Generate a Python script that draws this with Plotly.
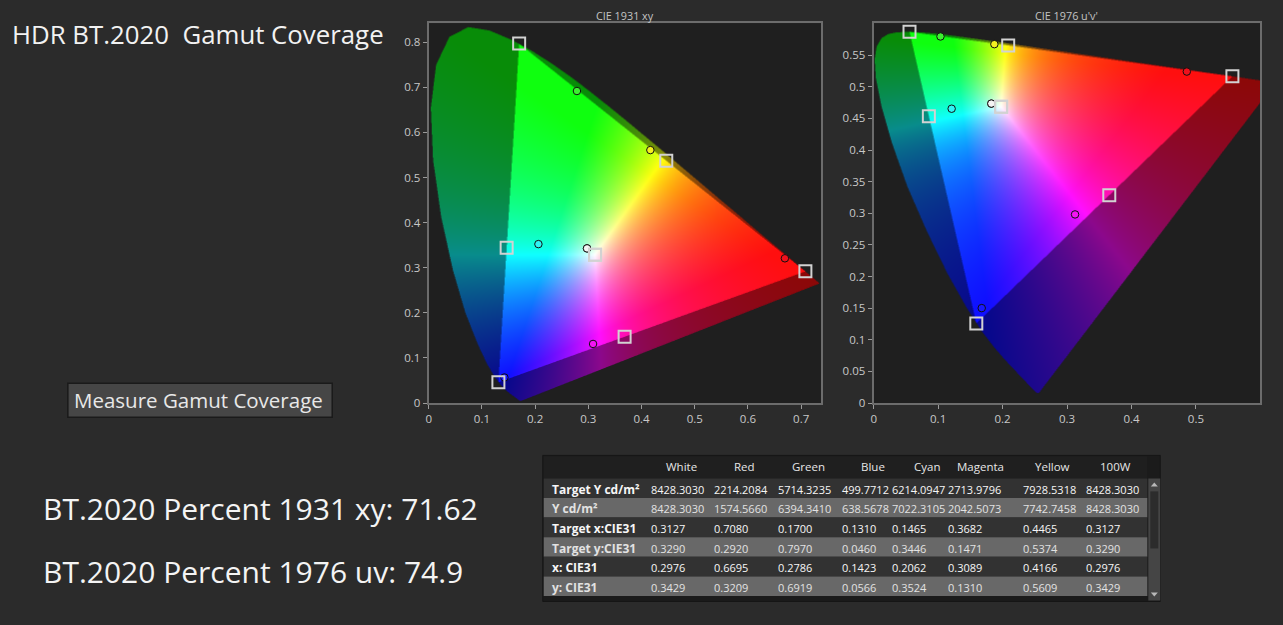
import base64
import struct
import zlib

import numpy as np
import plotly.graph_objects as go

W, H = 1283, 625
SY = 0.988  # the captured page comes out slightly squeezed vertically
FONT = "Open Sans"

# CIE 1931 2-degree spectral locus (chromaticity of monochromatic light)
WAVELENGTH_NM = [380, 385, 390, 395, 400, 405, 410, 415, 420, 425, 430, 435, 440, 445,
                 450, 455, 460, 465, 470, 475, 480, 485, 490, 495, 500, 505, 510, 515,
                 520, 525, 530, 535, 540, 545, 550, 555, 560, 565, 570, 575, 580, 585,
                 590, 595, 600, 605, 610, 615, 620, 625, 630, 635, 640, 645, 650, 655,
                 660, 665, 670, 680, 690, 700]
LOCUS_X = [0.1741, 0.1740, 0.1738, 0.1736, 0.1733, 0.1730, 0.1726, 0.1721, 0.1714, 0.1703,
           0.1689, 0.1669, 0.1644, 0.1611, 0.1566, 0.1510, 0.1440, 0.1355, 0.1241, 0.1096,
           0.0913, 0.0687, 0.0454, 0.0235, 0.0082, 0.0039, 0.0139, 0.0389, 0.0743, 0.1142,
           0.1547, 0.1929, 0.2296, 0.2658, 0.3016, 0.3373, 0.3731, 0.4087, 0.4441, 0.4788,
           0.5125, 0.5448, 0.5752, 0.6029, 0.6270, 0.6482, 0.6658, 0.6801, 0.6915, 0.7006,
           0.7079, 0.7140, 0.7190, 0.7230, 0.7260, 0.7283, 0.7300, 0.7311, 0.7320, 0.7334,
           0.7344, 0.7347]
LOCUS_Y = [0.0050, 0.0050, 0.0049, 0.0049, 0.0048, 0.0048, 0.0048, 0.0048, 0.0051, 0.0058,
           0.0069, 0.0086, 0.0109, 0.0138, 0.0177, 0.0227, 0.0297, 0.0399, 0.0578, 0.0868,
           0.1327, 0.2007, 0.2950, 0.4127, 0.5384, 0.6548, 0.7502, 0.8120, 0.8338, 0.8262,
           0.8059, 0.7816, 0.7543, 0.7243, 0.6923, 0.6589, 0.6245, 0.5896, 0.5547, 0.5202,
           0.4866, 0.4544, 0.4242, 0.3965, 0.3725, 0.3514, 0.3340, 0.3197, 0.3083, 0.2993,
           0.2920, 0.2859, 0.2809, 0.2770, 0.2740, 0.2717, 0.2700, 0.2689, 0.2680, 0.2666,
           0.2656, 0.2653]

# BT.2020 primaries (R, G, B)
BT2020_X = [0.708, 0.170, 0.131]
BT2020_Y = [0.292, 0.797, 0.046]

PATCHES = ["White", "Red", "Green", "Blue", "Cyan", "Magenta", "Yellow", "100W"]
TARGET_LUM = [8428.3030, 2214.2084, 5714.3235, 499.7712, 6214.0947, 2713.9796, 7928.5318, 8428.3030]
MEAS_LUM = [8428.3030, 1574.5660, 6394.3410, 638.5678, 7022.3105, 2042.5073, 7742.7458, 8428.3030]
TARGET_X = [0.3127, 0.7080, 0.1700, 0.1310, 0.1465, 0.3682, 0.4465, 0.3127]
TARGET_Y = [0.3290, 0.2920, 0.7970, 0.0460, 0.3446, 0.1471, 0.5374, 0.3290]
MEAS_X = [0.2976, 0.6695, 0.2786, 0.1423, 0.2062, 0.3089, 0.4166, 0.2976]
MEAS_Y = [0.3429, 0.3209, 0.6919, 0.0566, 0.3524, 0.1310, 0.5609, 0.3429]
PATCH_COLORS = ["#f4f4f4", "#f0101c", "#3cf030", "#1818ff", "#30f4f4", "#f414f4", "#f4f020", "#f4f4f4"]

ROW_LABELS = ["Target Y cd/m²", "Y cd/m²", "Target x:CIE31", "Target y:CIE31", "x: CIE31", "y: CIE31"]

PERCENT_XY = 71.62
PERCENT_UV = 74.9

XY_RANGE_X = [0, 0.7375]
XY_RANGE_Y = [0, 0.842]
UV_RANGE_X = [0, 0.5995]
UV_RANGE_Y = [0, 0.6003]
XY_TICKS_X = [0, 0.1, 0.2, 0.3, 0.4, 0.5, 0.6, 0.7]
XY_TICKS_Y = [0, 0.1, 0.2, 0.3, 0.4, 0.5, 0.6, 0.7, 0.8]
UV_TICKS_X = [0, 0.1, 0.2, 0.3, 0.4, 0.5]
UV_TICKS_Y = [0, 0.05, 0.1, 0.15, 0.2, 0.25, 0.3, 0.35, 0.4, 0.45, 0.5, 0.55]


def px(v):
    return v / W


def py(v):
    return 1 - v / SY / H


def xy_to_uv(x, y):
    x = np.asarray(x, float)
    y = np.asarray(y, float)
    d = -2 * x + 12 * y + 3
    return 4 * x / d, 9 * y / d


def inside(qx, qy, vx, vy):
    res = np.zeros(qx.shape, bool)
    n = len(vx)
    j = n - 1
    for i in range(n):
        yi, yj, xi, xj = vy[i], vy[j], vx[i], vx[j]
        cross = (yi > qy) != (yj > qy)
        xint = (xj - xi) * (qy - yi) / ((yj - yi) or 1e-12) + xi
        res ^= cross & (qx < xint)
        j = i
    return res


M_SRGB = np.array([[3.2406, -1.5372, -0.4986],
                   [-0.9689, 1.8758, 0.0415],
                   [0.0557, -0.2040, 1.0570]])


def chroma_rgba(x, y):
    # max-normalised, clipped linear RGB; dimmed outside the BT.2020 triangle
    yy = np.maximum(y, 1e-6)
    xyz = np.stack([x / yy, np.ones_like(x), (1 - x - y) / yy])
    rgb = np.clip(np.tensordot(M_SRGB, xyz, axes=1), 0, None)
    rgb /= np.maximum(rgb.max(axis=0), 1e-9)
    rgb = 0.06 + 0.94 * rgb
    in_locus = inside(x, y, LOCUS_X, LOCUS_Y)
    in_gamut = inside(x, y, BT2020_X, BT2020_Y)
    rgb = rgb * np.where(in_gamut, 1.0, 0.55)
    return rgb, in_locus.astype(float)


def gamut_image(xr, yr, nx, ny, uv=False, ss=2):
    gx = xr[0] + (np.arange(nx * ss) + 0.5) * (xr[1] - xr[0]) / (nx * ss)
    gy = yr[1] - (np.arange(ny * ss) + 0.5) * (yr[1] - yr[0]) / (ny * ss)
    a, b = np.meshgrid(gx, gy)
    if uv:
        d = 6 * a - 16 * b + 12
        a, b = 9 * a / d, 4 * b / d
    rgb, alpha = chroma_rgba(a, b)
    pre = (rgb * alpha).reshape(3, ny, ss, nx, ss).mean(axis=(2, 4))
    al = alpha.reshape(ny, ss, nx, ss).mean(axis=(1, 3))
    col = pre / np.maximum(al, 1e-9)
    img = np.concatenate([col, al[None]], axis=0).transpose(1, 2, 0)
    return np.clip(np.round(img * 255), 0, 255).astype(np.uint8)


def png_uri(rgba):
    h, w, _ = rgba.shape
    raw = b"".join(b"\x00" + rgba[r].tobytes() for r in range(h))

    def chunk(tag, data):
        return (struct.pack(">I", len(data)) + tag + data
                + struct.pack(">I", zlib.crc32(tag + data) & 0xFFFFFFFF))

    png = (b"\x89PNG\r\n\x1a\n"
           + chunk(b"IHDR", struct.pack(">IIBBBBB", w, h, 8, 6, 0, 0, 0))
           + chunk(b"IDAT", zlib.compress(raw, 9))
           + chunk(b"IEND", b""))
    return "data:image/png;base64," + base64.b64encode(png).decode()


# plot areas in pixels (left, right, top, bottom)
P1 = (426.7, 820.0, 23.3, 402.7)
P2 = (872.7, 1260.0, 23.3, 402.7)

img_xy = gamut_image(XY_RANGE_X, XY_RANGE_Y, int(P1[1] - P1[0]), int(P1[3] - P1[2]))
img_uv = gamut_image(UV_RANGE_X, UV_RANGE_Y, int(P2[1] - P2[0]), int(P2[3] - P2[2]), uv=True)

tu, tv = xy_to_uv(TARGET_X, TARGET_Y)
mu, mv = xy_to_uv(MEAS_X, MEAS_Y)

fig = go.Figure()
for xs, ys, xa, ya in [(MEAS_X, MEAS_Y, "x", "y"), (mu, mv, "x2", "y2")]:
    fig.add_trace(go.Scatter(
        x=xs, y=ys, xaxis=xa, yaxis=ya, mode="markers", hoverinfo="skip",
        marker=dict(symbol="circle", size=7.5, color=PATCH_COLORS,
                    line=dict(color="#101010", width=1)),
    ))
for xs, ys, xa, ya in [(TARGET_X, TARGET_Y, "x", "y"), (tu, tv, "x2", "y2")]:
    fig.add_trace(go.Scatter(
        x=xs, y=ys, xaxis=xa, yaxis=ya, mode="markers", hoverinfo="skip",
        marker=dict(symbol="square-open", size=12, color="#d2d2d2",
                    line=dict(width=2)),
    ))

axis = dict(showgrid=False, zeroline=False, showline=True, linecolor="#6c6c6c",
            linewidth=2, mirror=True, ticks="outside", ticklen=4, tickcolor="#9a9a9a",
            tickfont=dict(family=FONT, size=11.5, color="#c8c8c8"), fixedrange=True)

fig.update_layout(
    width=W, height=H, margin=dict(l=0, r=0, t=0, b=0), autosize=False,
    paper_bgcolor="#2b2b2b", plot_bgcolor="#1f1f1f", showlegend=False,
    xaxis=dict(axis, domain=[px(P1[0]), px(P1[1])], range=XY_RANGE_X, anchor="y",
               tickvals=XY_TICKS_X, ticktext=[f"{v:g}" for v in XY_TICKS_X]),
    yaxis=dict(axis, domain=[py(P1[3]), py(P1[2])], range=XY_RANGE_Y, anchor="x",
               tickvals=XY_TICKS_Y, ticktext=[f"{v:g}" for v in XY_TICKS_Y]),
    xaxis2=dict(axis, domain=[px(P2[0]), px(P2[1])], range=UV_RANGE_X, anchor="y2",
                tickvals=UV_TICKS_X, ticktext=[f"{v:g}" for v in UV_TICKS_X]),
    yaxis2=dict(axis, domain=[py(P2[3]), py(P2[2])], range=UV_RANGE_Y, anchor="x2",
                tickvals=UV_TICKS_Y, ticktext=[f"{v:g}" for v in UV_TICKS_Y]),
    images=[
        dict(source=png_uri(img_xy), xref="x", yref="y", x=XY_RANGE_X[0], y=XY_RANGE_Y[1],
             sizex=XY_RANGE_X[1] - XY_RANGE_X[0], sizey=XY_RANGE_Y[1] - XY_RANGE_Y[0],
             xanchor="left", yanchor="top", sizing="stretch", layer="below"),
        dict(source=png_uri(img_uv), xref="x2", yref="y2", x=UV_RANGE_X[0], y=UV_RANGE_Y[1],
             sizex=UV_RANGE_X[1] - UV_RANGE_X[0], sizey=UV_RANGE_Y[1] - UV_RANGE_Y[0],
             xanchor="left", yanchor="top", sizing="stretch", layer="below"),
    ],
)


def rect(x0, x1, y0, y1, fill, line_color=None, line_width=0, layer="below"):
    return dict(type="rect", xref="paper", yref="paper", x0=px(x0), x1=px(x1),
                y0=py(y1), y1=py(y0), fillcolor=fill, layer=layer,
                line=dict(color=line_color or fill, width=line_width))


def text(t, x, y, size, anchor="left", color="#f0f0f0"):
    fig.add_annotation(text=t, x=px(x), y=py(y), xref="paper", yref="paper",
                       xanchor=anchor, yanchor="middle", showarrow=False,
                       font=dict(family=FONT, size=size, color=color))


# measurement table (frame, header band, alternating row bands, scrollbar)
TBL_L, TBL_R, TBL_TOP, HDR_H, ROW_H = 541, 1147, 456, 22, 19.6
COL_TEXT_X = [548, 648, 711, 775, 839, 889, 945, 1020, 1084]
HDR_CENTER_X = [680, 743, 807, 872, 926, 980, 1052, 1115]

shapes = [
    rect(541, 1160, 455, 601, "#1b1b1b", "#161616", 1),
    rect(TBL_L + 1, TBL_R, TBL_TOP, TBL_TOP + HDR_H, "#1f1f1f"),
]
for r in range(len(ROW_LABELS)):
    y0 = TBL_TOP + HDR_H + r * ROW_H
    shapes.append(rect(TBL_L + 1, TBL_R, y0, y0 + ROW_H, "#323232" if r % 2 == 0 else "#686868"))
shapes += [
    rect(1148, 1160, 478, 600, "#454545"),
    rect(1150, 1158, 491, 548, "#2c2c2c"),
    dict(type="path", xref="paper", yref="paper", layer="below",
         path=f"M{px(1150.5)},{py(486)} L{px(1157.5)},{py(486)} L{px(1154)},{py(482)} Z",
         fillcolor="#b8b8b8", line=dict(width=0)),
    dict(type="path", xref="paper", yref="paper", layer="below",
         path=f"M{px(1150.5)},{py(592)} L{px(1157.5)},{py(592)} L{px(1154)},{py(596)} Z",
         fillcolor="#b8b8b8", line=dict(width=0)),
    rect(65, 330, 383, 417, "#464646", "#1a1a1a", 1.5, layer="above"),
]
fig.update_layout(shapes=shapes)

for name, cx in zip(PATCHES, HDR_CENTER_X):
    text(name, cx, TBL_TOP + HDR_H / 2 - 0.5, 11.5, "center", "#e6e6e6")
for r, label in enumerate(ROW_LABELS):
    yc = TBL_TOP + HDR_H + (r + 0.5) * ROW_H + 1
    fc = "#f6f6f6" if r % 2 == 0 else "#e2e2e2"
    text(f"<b>{label}</b>", COL_TEXT_X[0], yc, 12, "left", fc)
    for i in range(len(PATCHES)):
        vals = [TARGET_LUM[i], MEAS_LUM[i], TARGET_X[i], TARGET_Y[i], MEAS_X[i], MEAS_Y[i]]
        text(f"{vals[r]:.4f}", COL_TEXT_X[i + 1], yc, 11, "left", fc)

# titles and left-hand panel
text("CIE 1931 xy", (P1[0] + P1[1]) / 2, 15, 10.8, "center", "#c4c4c4")
text("CIE 1976 u'v'", (P2[0] + P2[1]) / 2, 15, 10.8, "center", "#c4c4c4")
text("HDR BT.2020 \u00a0Gamut Coverage", 7, 34, 25.8, "left", "#f2f2f2")
text("Measure Gamut Coverage", 196, 400, 20.5, "center", "#e8e8e8")
text(f"BT.2020 Percent 1931 xy: {PERCENT_XY:.2f}", 38, 508, 30, "left", "#f4f4f4")
text(f"BT.2020 Percent 1976 uv: {PERCENT_UV:g}", 38, 571, 30, "left", "#f4f4f4")

fig.write_html(
    "out.html", config={"displayModeBar": False},
    post_script=("document.body.style.margin='0';"
                 "document.documentElement.style.overflow='hidden';"
                 "document.querySelectorAll('.svg-container').forEach("
                 "function(e){e.style.display='block';});"),
)
